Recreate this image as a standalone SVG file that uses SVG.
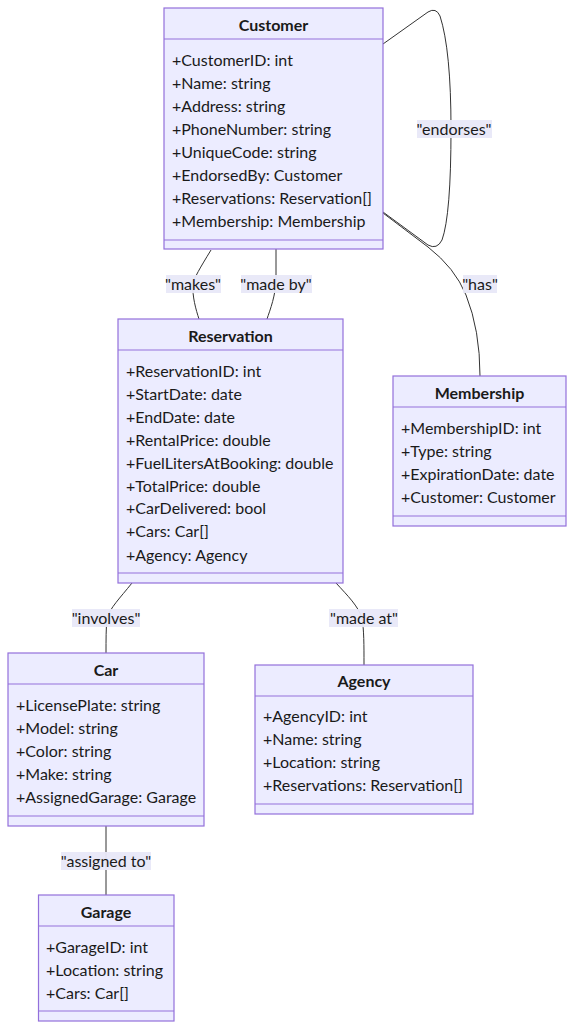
<svg xmlns="http://www.w3.org/2000/svg" width="574" height="1030" viewBox="0 0 574 1030">
<style>
.box{fill:#ECECFF;stroke:#9370DB;stroke-width:1.2}
.div{stroke:#9370DB;stroke-width:1.2}
.t{font-family:Lato,"DejaVu Sans",sans-serif;font-size:16px;fill:#1a1a1a;dominant-baseline:central}
.h{font-family:Lato,"DejaVu Sans",sans-serif;font-size:16px;font-weight:bold;fill:#1a1a1a;text-anchor:middle;dominant-baseline:central}
.e{fill:none;stroke:#333;stroke-width:1}
.lb{fill:#E8E8F8;opacity:0.95}
.l{font-family:Lato,"DejaVu Sans",sans-serif;font-size:16px;fill:#1a1a1a;text-anchor:middle;dominant-baseline:central}
</style>
<rect width="574" height="1030" fill="#ffffff"/>
<g id="connectors">
<path class="e" d="M383,44 L428,12 Q436,7 440,16 Q451,50 451,129 Q451,215 442,240 Q437,250 428,245 L383,212"/>
<path class="e" d="M383,213 L428,247 Q455,268 466,295 Q480,330 480,376"/>
<path class="e" d="M211,250 C200,268 194,278 193,284 C192,296 196,310 199,319"/>
<path class="e" d="M276,249 L276,278 C276,295 270,310 267,319"/>
<path class="e" d="M132,583 C120,598 110,608 107,618 C106,628 106,640 106,653"/>
<path class="e" d="M336,583 C348,596 358,606 362,618 C364,630 364,645 364,665"/>
<path class="e" d="M106,826 L106,895"/>
<rect class="lb" x="417" y="120" width="75" height="18"/><text class="l" x="454" y="128">"endorses"</text>
<rect class="lb" x="463" y="275" width="34" height="18"/><text class="l" x="480" y="283">"has"</text>
<rect class="lb" x="166" y="275" width="55" height="18"/><text class="l" x="193" y="283">"makes"</text>
<rect class="lb" x="241" y="275" width="71" height="18"/><text class="l" x="276" y="283">"made by"</text>
<rect class="lb" x="72" y="609" width="68" height="18"/><text class="l" x="106" y="617">"involves"</text>
<rect class="lb" x="329" y="609" width="69" height="18"/><text class="l" x="364" y="617">"made at"</text>
<rect class="lb" x="61" y="852" width="90" height="18"/><text class="l" x="106" y="860">"assigned to"</text>
</g>
<g id="Customer">
<rect class="box" x="164" y="8" width="219" height="241"/>
<line class="div" x1="164" y1="39" x2="383" y2="39"/>
<line class="div" x1="164" y1="240" x2="383" y2="240"/>
<text class="h" x="273.5" y="24">Customer</text>
<text class="t" x="172" y="59">+CustomerID: int</text>
<text class="t" x="172" y="82">+Name: string</text>
<text class="t" x="172" y="105">+Address: string</text>
<text class="t" x="172" y="128">+PhoneNumber: string</text>
<text class="t" x="172" y="151">+UniqueCode: string</text>
<text class="t" x="172" y="174">+EndorsedBy: Customer</text>
<text class="t" x="172" y="197">+Reservations: Reservation[]</text>
<text class="t" x="172" y="220">+Membership: Membership</text>
</g>
<g id="Reservation">
<rect class="box" x="118" y="319" width="225" height="264"/>
<line class="div" x1="118" y1="350" x2="343" y2="350"/>
<line class="div" x1="118" y1="573" x2="343" y2="573"/>
<text class="h" x="230.5" y="335">Reservation</text>
<text class="t" x="126" y="370">+ReservationID: int</text>
<text class="t" x="126" y="393">+StartDate: date</text>
<text class="t" x="126" y="416">+EndDate: date</text>
<text class="t" x="126" y="439">+RentalPrice: double</text>
<text class="t" x="126" y="462">+FuelLitersAtBooking: double</text>
<text class="t" x="126" y="485">+TotalPrice: double</text>
<text class="t" x="126" y="507">+CarDelivered: bool</text>
<text class="t" x="126" y="530">+Cars: Car[]</text>
<text class="t" x="126" y="554">+Agency: Agency</text>
</g>
<g id="Membership">
<rect class="box" x="393" y="376" width="173" height="150"/>
<line class="div" x1="393" y1="407" x2="566" y2="407"/>
<line class="div" x1="393" y1="516" x2="566" y2="516"/>
<text class="h" x="479.5" y="392">Membership</text>
<text class="t" x="401" y="427">+MembershipID: int</text>
<text class="t" x="401" y="450">+Type: string</text>
<text class="t" x="401" y="473">+ExpirationDate: date</text>
<text class="t" x="401" y="496">+Customer: Customer</text>
</g>
<g id="Car">
<rect class="box" x="8" y="653" width="196" height="173"/>
<line class="div" x1="8" y1="684" x2="204" y2="684"/>
<line class="div" x1="8" y1="816" x2="204" y2="816"/>
<text class="h" x="106" y="669">Car</text>
<text class="t" x="16" y="704">+LicensePlate: string</text>
<text class="t" x="16" y="727">+Model: string</text>
<text class="t" x="16" y="750">+Color: string</text>
<text class="t" x="16" y="773">+Make: string</text>
<text class="t" x="16" y="796">+AssignedGarage: Garage</text>
</g>
<g id="Agency">
<rect class="box" x="255" y="665" width="218" height="149"/>
<line class="div" x1="255" y1="696" x2="473" y2="696"/>
<line class="div" x1="255" y1="804" x2="473" y2="804"/>
<text class="h" x="364" y="680">Agency</text>
<text class="t" x="263" y="715">+AgencyID: int</text>
<text class="t" x="263" y="738">+Name: string</text>
<text class="t" x="263" y="761">+Location: string</text>
<text class="t" x="263" y="784">+Reservations: Reservation[]</text>
</g>
<g id="Garage">
<rect class="box" x="38.5" y="895" width="135.5" height="126"/>
<line class="div" x1="38.5" y1="926" x2="174" y2="926"/>
<line class="div" x1="38.5" y1="1011" x2="174" y2="1011"/>
<text class="h" x="106" y="911">Garage</text>
<text class="t" x="46" y="946">+GarageID: int</text>
<text class="t" x="46" y="969">+Location: string</text>
<text class="t" x="46" y="992">+Cars: Car[]</text>
</g>
</svg>
